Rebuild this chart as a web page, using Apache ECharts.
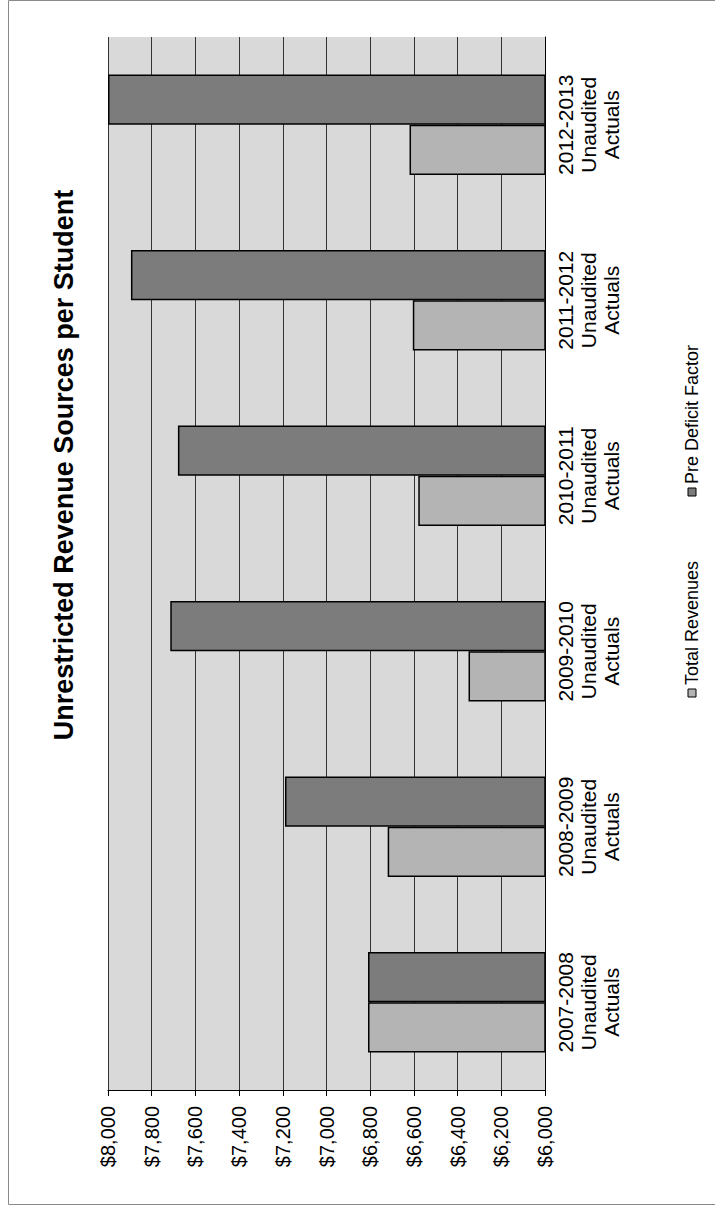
<!DOCTYPE html>
<html>
<head>
<meta charset="utf-8">
<title>Unrestricted Revenue Sources per Student</title>
<script src="https://cdn.jsdelivr.net/npm/echarts/dist/echarts.min.js"></script>
<style>
  html, body { margin: 0; padding: 0; background: #ffffff; }
  #chart { width: 715px; height: 1209px; }
</style>
</head>
<body>
<div id="chart"></div>
<script>
// Fiscal years (category axis), oldest first
const categories = [
  '2007-2008\nUnaudited\nActuals',
  '2008-2009\nUnaudited\nActuals',
  '2009-2010\nUnaudited\nActuals',
  '2010-2011\nUnaudited\nActuals',
  '2011-2012\nUnaudited\nActuals',
  '2012-2013\nUnaudited\nActuals'
];

// Dollars per student
const totalRevenues    = [6810, 6720, 6350, 6580, 6605, 6620];
const preDeficitFactor = [6810, 7190, 7715, 7680, 7895, 8000];

const seriesNames = ['Total Revenues', 'Pre Deficit Factor'];
const seriesColors = ['#b4b4b4', '#7c7c7c'];

// Value axis range and step
const valueMin = 6000;
const valueMax = 8000;
const valueStep = 200;

const titleText = 'Unrestricted Revenue Sources per Student';
const FONT = '"Liberation Sans", Arial, sans-serif';

const chart = echarts.init(document.getElementById('chart'), null, { renderer: 'svg' });

// Plot rectangle (the whole chart is laid out turned a quarter turn)
const plot = { left: 108, right: 545, top: 37, bottom: 1090 };

function money(v) {
  return '$' + v.toLocaleString('en-US');
}

function barSeries(name, data, color) {
  return {
    name: name,
    type: 'bar',
    data: data,
    barGap: '0%',
    barCategoryGap: '42.8%',
    itemStyle: { color: color, borderColor: '#000', borderWidth: 1.5 }
  };
}

const option = {
  backgroundColor: '#ffffff',
  animation: false,
  grid: {
    left: plot.left,
    right: 715 - plot.right,
    top: plot.top,
    bottom: 1209 - plot.bottom,
    show: true,
    backgroundColor: '#d9d9d9',
    borderWidth: 0
  },
  xAxis: {
    type: 'value',
    min: valueMin,
    max: valueMax,
    interval: valueStep,
    inverse: true,
    position: 'bottom',
    axisLine: { show: true, lineStyle: { color: '#000', width: 1 } },
    axisTick: { show: true, length: 6, lineStyle: { color: '#000', width: 1 } },
    splitLine: { show: true, lineStyle: { color: '#333', width: 1 } },
    axisLabel: {
      rotate: 90,
      margin: 16,
      color: '#000',
      fontFamily: FONT,
      fontSize: 20,
      formatter: money
    }
  },
  yAxis: {
    type: 'category',
    data: categories,
    position: 'right',
    axisLine: { show: true, lineStyle: { color: '#000', width: 1 } },
    axisTick: { show: false },
    splitLine: { show: false },
    axisLabel: {
      rotate: 90,
      margin: 9,
      color: '#000',
      fontFamily: FONT,
      fontSize: 21,
      lineHeight: 23,
      align: 'center'
    }
  },
  // the darker bar sits above the lighter one within each year
  series: [
    barSeries(seriesNames[1], preDeficitFactor, seriesColors[1]),
    barSeries(seriesNames[0], totalRevenues, seriesColors[0])
  ],
  graphic: [
    // outer frame of the chart area
    {
      type: 'rect',
      shape: { x: 8.5, y: 0.5, width: 720, height: 1204 },
      style: { fill: 'none', stroke: '#8a8a8a', lineWidth: 1 },
      silent: true
    },
    // title, read bottom-to-top
    {
      type: 'text',
      x: 64,
      y: 465,
      rotation: Math.PI / 2,
      style: {
        text: titleText,
        fontFamily: FONT,
        fontSize: 27,
        fontWeight: 'bold',
        fill: '#000',
        align: 'center',
        verticalAlign: 'middle'
      }
    },
    // legend: Total Revenues
    {
      type: 'rect',
      shape: { x: 688, y: 689, width: 8, height: 8 },
      style: { fill: seriesColors[0], stroke: '#000', lineWidth: 1 }
    },
    {
      type: 'text',
      x: 692,
      y: 685,
      rotation: Math.PI / 2,
      style: {
        text: seriesNames[0],
        fontFamily: FONT,
        fontSize: 18,
        fill: '#000',
        align: 'left',
        verticalAlign: 'middle'
      }
    },
    // legend: Pre Deficit Factor
    {
      type: 'rect',
      shape: { x: 688, y: 488, width: 8, height: 8 },
      style: { fill: seriesColors[1], stroke: '#000', lineWidth: 1 }
    },
    {
      type: 'text',
      x: 692,
      y: 484,
      rotation: Math.PI / 2,
      style: {
        text: seriesNames[1],
        fontFamily: FONT,
        fontSize: 18,
        fill: '#000',
        align: 'left',
        verticalAlign: 'middle'
      }
    }
  ]
};

chart.setOption(option);
</script>
</body>
</html>
